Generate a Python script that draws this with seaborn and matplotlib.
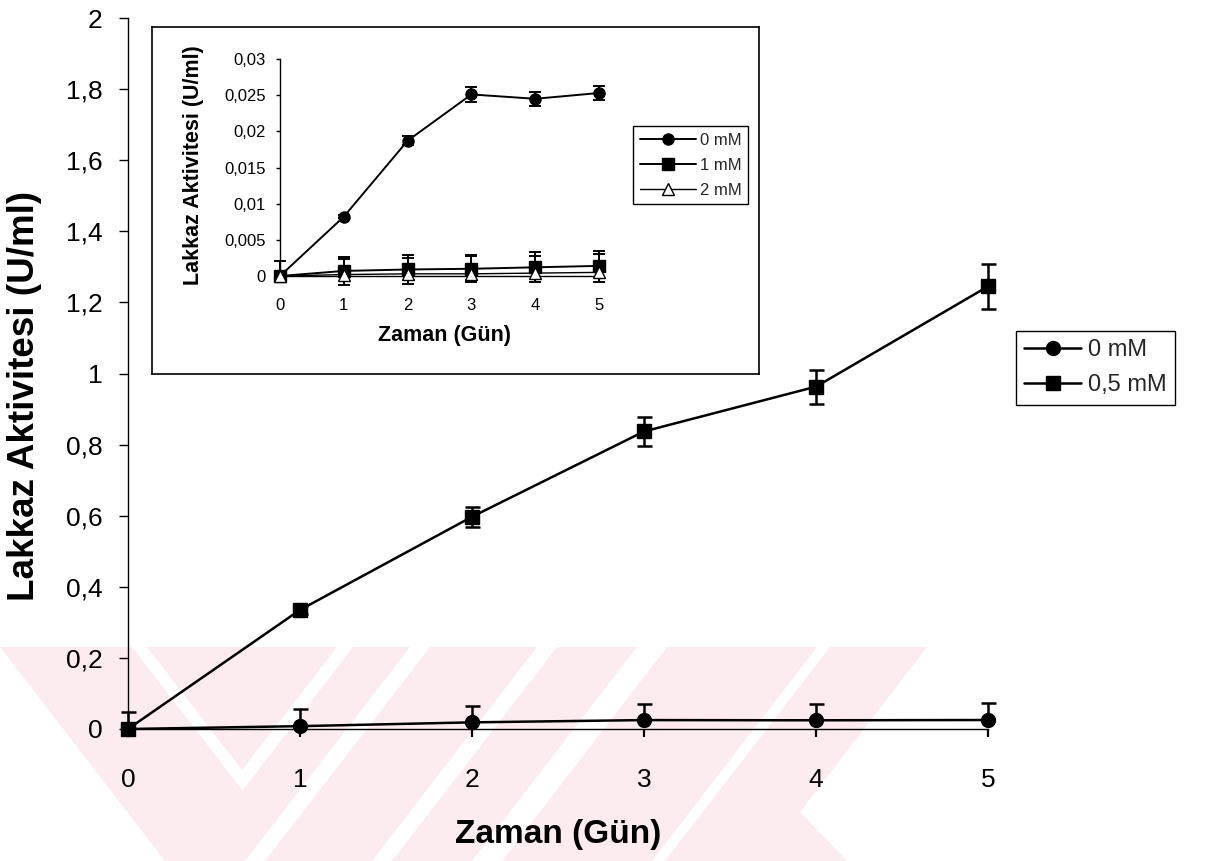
import numpy as np
import matplotlib
matplotlib.use("Agg")
import matplotlib.pyplot as plt
import seaborn as sns
from matplotlib.patches import Polygon

# ---------------- data ----------------
days = [0, 1, 2, 3, 4, 5]
day_labels = ["0", "1", "2", "3", "4", "5"]

# main panel: laccase activity (U/ml)
main_series = ["0 mM", "0,5 mM"]
act_0mM = [0.0, 0.008, 0.0187, 0.0251, 0.0245, 0.0253]
err_0mM_up = [0.049, 0.048, 0.046, 0.045, 0.046, 0.049]
act_05mM = [0.0, 0.335, 0.597, 0.837, 0.963, 1.245]
err_05mM = [0.0, 0.012, 0.028, 0.041, 0.048, 0.063]

main_yticks = [0, 0.2, 0.4, 0.6, 0.8, 1.0, 1.2, 1.4, 1.6, 1.8, 2.0]
main_yticklabels = ["0", "0,2", "0,4", "0,6", "0,8", "1", "1,2", "1,4", "1,6", "1,8", "2"]

# inset panel
inset_series = ["0 mM", "1 mM", "2 mM"]
in_0mM = [0.0, 0.0082, 0.0187, 0.0251, 0.0245, 0.0253]
in_0mM_err = [0.0, 0.0002, 0.0006, 0.0010, 0.0010, 0.0010]
in_1mM = [0.0, 0.0007, 0.0009, 0.0010, 0.0012, 0.0014]
in_1mM_err_lo = [0.0, 0.0019, 0.0020, 0.0018, 0.0020, 0.0022]
in_1mM_err_hi = [0.0021, 0.0019, 0.0020, 0.0019, 0.0021, 0.0021]
in_2mM = [0.0, 0.0002, 0.0003, 0.0003, 0.0004, 0.0005]
in_2mM_err_up = [0.0, 0.0021, 0.0022, 0.0024, 0.0024, 0.0025]

inset_yticks = [0, 0.005, 0.01, 0.015, 0.02, 0.025, 0.03]
inset_yticklabels = ["0", "0,005", "0,01", "0,015", "0,02", "0,025", "0,03"]

xlabel = "Zaman (Gün)"
ylabel = "Lakkaz Aktivitesi (U/ml)"

# ---------------- style ----------------
sns.set_theme(style="ticks")
plt.rcParams["font.family"] = ["Liberation Sans", "DejaVu Sans"]
plt.rcParams["axes.linewidth"] = 1.0

W, H = 1209, 861
fig = plt.figure(figsize=(W / 100, H / 100), dpi=100)
fig.patch.set_facecolor("white")


def fx(x):
    return x / W


def fy(y):
    return 1 - y / H


def pix_poly(pts, color, z):
    fig.add_artist(Polygon([(fx(x), fy(y)) for x, y in pts], closed=True,
                           transform=fig.transFigure, facecolor=color,
                           edgecolor="none", zorder=z))


# faint background emblem in the lower part of the page
pink = "#fdecef"
pix_poly([(0, 647), (410, 647), (245, 861), (165, 861)], pink, -5)
pix_poly([(132, 647), (242.5, 790.5), (353, 647), (337, 647), (242, 770), (147, 647)], "white", -4)
for a, b in [(430, 537), (557, 637), (667, 817)]:
    pix_poly([(a, 647), (b, 647), (b - 165, 861), (a - 165, 861)], pink, -5)
pix_poly([(830, 647), (927, 647), (800, 812), (847, 861), (665, 861)], pink, -5)


def draw_series(ax, y, lo, hi, marker, ms, lw, face, capsize, elw, label, hide_lower=False):
    x = np.asarray(days, dtype=float)
    y = np.asarray(y, dtype=float)
    lo = np.asarray(lo, dtype=float)
    hi = np.asarray(hi, dtype=float)
    m = (lo > 0) | (hi > 0)
    eb = ax.errorbar(x[m], y[m], yerr=[lo[m], hi[m]], fmt="none", ecolor="black",
                     elinewidth=elw, capsize=capsize, capthick=elw, zorder=3,
                     clip_on=False)
    if hide_lower and len(eb[1]) == 2:
        eb[1][0].set_visible(False)
    sns.lineplot(x=x, y=y, ax=ax, color="black", linewidth=lw, marker=marker,
                 markersize=ms, markerfacecolor=face, markeredgecolor="black",
                 markeredgewidth=1.0, label=label, zorder=4, clip_on=False,
                 sort=False, errorbar=None)


# ---------------- main axes ----------------
ax = fig.add_axes([fx(128), fy(729), fx(988) - fx(128), fy(18) - fy(729)])
ax.set_facecolor("none")
draw_series(ax, act_0mM, np.zeros(6), err_0mM_up, "o", 10, 1.8, "black", 5.4, 1.8,
            main_series[0], hide_lower=True)
draw_series(ax, act_05mM, err_05mM, err_05mM, "s", 10, 1.8, "black", 5.4, 1.8,
            main_series[1])
ax.set_xlim(0, 5)
ax.set_ylim(0, 2)
ax.set_xticks(days)
ax.set_xticklabels(day_labels)
ax.set_yticks(main_yticks)
ax.set_yticklabels(main_yticklabels)
for s in ["top", "right"]:
    ax.spines[s].set_visible(False)
for s in ["left", "bottom"]:
    ax.spines[s].set_color("black")
    ax.spines[s].set_linewidth(1.0)
ax.tick_params(axis="y", direction="out", length=6.5, width=1.0, pad=12,
               labelsize=19, colors="black")
ax.tick_params(axis="x", direction="out", length=6, width=1.6, pad=22,
               labelsize=19, colors="black")
ax.set_xlabel(xlabel, fontsize=24, fontweight="bold", color="black")
ax.set_ylabel(ylabel, fontsize=26.5, fontweight="bold", color="black")
ax.xaxis.set_label_coords(fx(558), fy(835), transform=fig.transFigure)
ax.yaxis.set_label_coords(fx(25), fy(396), transform=fig.transFigure)
ax.xaxis.label.set_va("center")
ax.yaxis.label.set_va("center")
leg = ax.legend(loc="upper left", bbox_to_anchor=(fx(1016), fy(331)),
                bbox_transform=fig.transFigure, borderaxespad=0, fontsize=17,
                handlelength=2.4, handletextpad=0.3, labelspacing=0.55,
                borderpad=0.35, fancybox=False, framealpha=1)
leg.get_frame().set_edgecolor("black")
leg.get_frame().set_linewidth(1.0)

# ---------------- inset ----------------
frame = fig.add_axes([fx(152), fy(374), fx(759) - fx(152), fy(27) - fy(374)])
frame.set_facecolor("white")
frame.set_xticks([])
frame.set_yticks([])
for s in frame.spines.values():
    s.set_color("black")
    s.set_linewidth(1.2)
frame.set_zorder(5)

axi = fig.add_axes([fx(280), fy(276), fx(599) - fx(280), fy(59) - fy(276)])
axi.set_facecolor("none")
axi.set_zorder(6)
draw_series(axi, in_0mM, in_0mM_err, in_0mM_err, "o", 8, 1.4, "black", 4, 1.4,
            inset_series[0])
draw_series(axi, in_1mM, in_1mM_err_lo, in_1mM_err_hi, "s", 8, 1.4, "black", 4, 1.4,
            inset_series[1])
draw_series(axi, in_2mM, np.zeros(6), in_2mM_err_up, "^", 9, 1.0, "white", 4, 1.4,
            inset_series[2], hide_lower=True)
axi.set_xlim(0, 5)
axi.set_ylim(0, 0.03)
axi.set_xticks(days)
axi.set_xticklabels(day_labels)
axi.set_yticks(inset_yticks)
axi.set_yticklabels(inset_yticklabels)
for s in ["top", "right"]:
    axi.spines[s].set_visible(False)
for s in ["left", "bottom"]:
    axi.spines[s].set_color("black")
    axi.spines[s].set_linewidth(1.0)
axi.tick_params(axis="y", direction="out", length=3, width=1.0, pad=7,
                labelsize=12, colors="black")
axi.tick_params(axis="x", direction="out", length=3, width=1.0, pad=13,
                labelsize=12, colors="black")
axi.set_xlabel(xlabel, fontsize=15.5, fontweight="bold", color="black")
axi.set_ylabel(ylabel, fontsize=15.5, fontweight="bold", color="black")
axi.xaxis.set_label_coords(fx(444), fy(336), transform=fig.transFigure)
axi.yaxis.set_label_coords(fx(193), fy(165), transform=fig.transFigure)
axi.xaxis.label.set_va("center")
axi.yaxis.label.set_va("center")
legi = axi.legend(loc="upper left", bbox_to_anchor=(fx(633), fy(126)),
                  bbox_transform=fig.transFigure, borderaxespad=0, fontsize=12,
                  handlelength=3.4, handletextpad=0.2, labelspacing=0.6,
                  borderpad=0.4, fancybox=False, framealpha=1)
legi.get_frame().set_edgecolor("black")
legi.get_frame().set_linewidth(1.0)

fig.savefig("out.png", dpi=100)
